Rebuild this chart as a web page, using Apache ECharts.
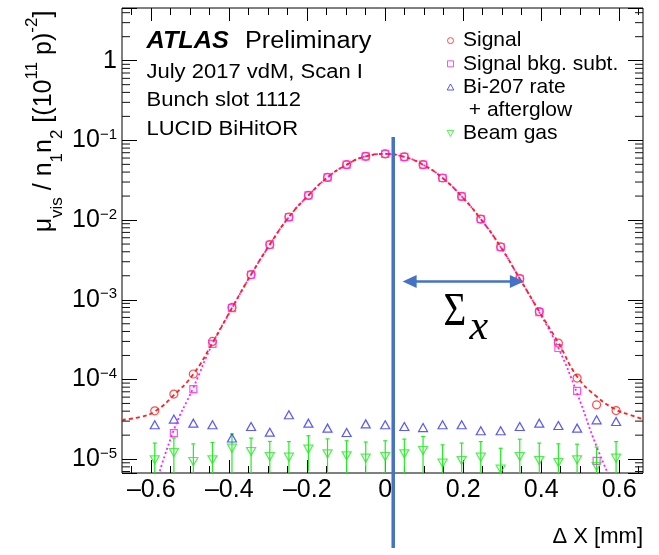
<!DOCTYPE html>
<html>
<head>
<meta charset="utf-8">
<title>LUCID BiHitOR vdM scan</title>
<script src="https://cdn.jsdelivr.net/npm/echarts@6/dist/echarts.min.js"></script>
<style>
html,body{margin:0;padding:0;background:#fff;}
#main{width:659px;height:555px;}
</style>
</head>
<body>
<div id="main"></div>
<script>
// beam separation of each scan step [mm]
var sepX = [-0.591,-0.542,-0.492,-0.443,-0.393,-0.344,-0.296,-0.247,-0.197,-0.148,-0.099,-0.050,0.000,
            0.049,0.097,0.147,0.196,0.245,0.296,0.345,0.395,0.444,0.492,0.542,0.592];
// mu_vis / n1n2 for each scan step
var signal = [4.04e-5,6.55e-5,1.17e-4,3.0e-4,8.0e-4,2.07e-3,4.93e-3,1.093e-2,2.04e-2,3.43e-2,4.95e-2,6.30e-2,6.75e-2,
              6.19e-2,4.95e-2,3.37e-2,1.98e-2,1.03e-2,4.6e-3,1.84e-3,7.1e-4,2.86e-4,1.04e-4,4.81e-5,4.07e-5];
var signalBkgSub = [null,2.12e-5,7.57e-5,2.8e-4,7.87e-4,2.06e-3,4.9e-3,1.09e-2,2.04e-2,3.43e-2,4.95e-2,6.30e-2,6.75e-2,
                    6.19e-2,4.95e-2,3.37e-2,1.98e-2,1.03e-2,4.59e-3,1.835e-3,7.0e-4,2.48e-4,7.2e-5,9.5e-6,null];
var bi207 = [2.70e-5,3.18e-5,2.83e-5,2.70e-5,1.84e-5,2.57e-5,2.18e-5,3.60e-5,2.83e-5,2.45e-5,2.16e-5,2.77e-5,2.70e-5,
             2.57e-5,2.49e-5,2.70e-5,2.70e-5,2.27e-5,2.27e-5,2.57e-5,2.83e-5,2.64e-5,2.45e-5,3.11e-5,2.97e-5];
var beamGas = [9.8e-6,1.21e-5,9.33e-6,9.8e-6,1.374e-5,1.246e-5,1.078e-5,1.059e-5,1.335e-5,1.165e-5,1.10e-5,1.029e-5,1.078e-5,
               1.165e-5,1.282e-5,8.91e-6,9.6e-6,1.059e-5,7.49e-6,1.078e-5,9.6e-6,9.07e-6,9.8e-6,8.07e-6,1.029e-5];
var beamGasErr = [6.1e-6,6.3e-6,6.2e-6,6.4e-6,7.0e-6,5.9e-6,5.9e-6,6.0e-6,6.3e-6,6.3e-6,6.0e-6,6.1e-6,6.2e-6,
                  6.2e-6,6.4e-6,6.2e-6,6.3e-6,6.0e-6,6.2e-6,7.0e-6,6.3e-6,6.5e-6,5.6e-6,6.1e-6,6.3e-6];

// fitted curves
var signalFitX = [-0.675,-0.63,-0.591,-0.542,-0.492,-0.443,-0.393,-0.344,-0.296,-0.247,-0.197,-0.148,-0.099,-0.050,0.000,
                  0.049,0.097,0.147,0.196,0.245,0.296,0.345,0.395,0.444,0.492,0.542,0.592,0.627,0.661];
var signalFit = [3.11e-5,3.37e-5,3.96e-5,6.36e-5,1.17e-4,2.88e-4,7.9e-4,2.07e-3,4.93e-3,1.093e-2,2.04e-2,3.43e-2,4.95e-2,6.3e-2,6.75e-2,
                 6.19e-2,4.95e-2,3.37e-2,1.98e-2,1.03e-2,4.6e-3,1.84e-3,7.1e-4,2.88e-4,1.09e-4,6.1e-5,4.16e-5,3.6e-5,3.18e-5];
var bkgSubFit = [4.3e-6,2.33e-5,7.9e-5,2.8e-4,7.8e-4,2.06e-3,4.9e-3,1.09e-2,2.04e-2,3.43e-2,4.95e-2,6.3e-2,6.75e-2,
                 6.19e-2,4.95e-2,3.37e-2,1.98e-2,1.03e-2,4.6e-3,1.83e-3,7.0e-4,2.48e-4,6.7e-5,1.44e-5,3.9e-6];

// axis ticks
var xLabels = [-0.6,-0.4,-0.2,0,0.2,0.4,0.6];
var xMinor = [-0.65,-0.55,-0.5,-0.45,-0.35,-0.3,-0.25,-0.15,-0.1,-0.05,0.05,0.1,0.15,0.25,0.3,0.35,0.45,0.5,0.55,0.65];
var yMinorDecades = [1e-6,1e-5,1e-4,1e-3,1e-2,1e-1,1];
var yMinorMant = [2,3,4,5,6,7,8,9];

var xMin = -0.675, xMax = 0.661, yMin = 6.7e-6, yMax = 4.58;

// hand-drawn width annotation (data coords)
var centreX = 0.0205, centreTopY = 0.1104;
var sigmaArrowX = [0.0446, 0.3556], sigmaArrowY = 1.70e-3;

var red = '#ff2020', magenta = '#ff20ff', blue = '#3030ff', green = '#22ee22', annBlue = '#4472c4';

// plot frame
var gridLeft = 122, gridTop = 8, gridW = 521, gridH = 465;

function pairs(xs, ys){
    return xs.map(function(x, i){ return [x, ys[i] == null ? '-' : ys[i]]; });
}

function renderErr(params, api){
    var x = api.value(0), v = api.value(1), e = api.value(2);
    var lo = Math.max(v - e, yMin), hi = Math.min(v + e, yMax);
    var p0 = api.coord([x, lo]), p1 = api.coord([x, hi]);
    var st = {stroke: green, lineWidth: 1.2};
    return {type: 'group', children: [
        {type: 'line', shape: {x1: p0[0], y1: p0[1], x2: p1[0], y2: p1[1]}, style: st},
        {type: 'line', shape: {x1: p1[0] - 2, y1: p1[1], x2: p1[0] + 2, y2: p1[1]}, style: st}
    ]};
}

function fmtX(v){
    if (v === 0) return '0';
    return (v < 0 ? '\u2013' : '') + Math.abs(v).toFixed(1);
}
function fmtY(v){
    var p = Math.round(Math.log10(v));
    if (Math.abs(v / Math.pow(10, p) - 1) > 1e-6) return '';
    return p === 0 ? '1' : '10{sup|\u2212' + (-p) + '}';
}

// extra tick-only axes sharing the frame
function tickAxisX(pos, values, len){
    return {type: 'value', min: xMin, max: xMax, position: pos,
            axisLine: {show: false, onZero: false}, axisLabel: {show: false}, splitLine: {show: false},
            axisTick: {show: true, inside: true, length: len, customValues: values, lineStyle: {color: '#000', width: 1}}};
}

var circleIcon = 'path://M5,0A5,5 0 1,1 5,10A5,5 0 1,1 5,0Z';
var squareIcon = 'path://M0,0H10V10H0Z';
var triUp = 'path://M5,0L10,9L0,9Z';
var triDown = 'path://M0,0L10,0L5,9Z';

var myChart = echarts.init(document.getElementById('main'));
var option = {
    animation: false,
    textStyle: {fontFamily: 'Liberation Sans', color: '#000'},
    grid: {left: gridLeft, top: gridTop, width: gridW, height: gridH, show: true, borderColor: '#000', borderWidth: 1,
           backgroundColor: 'transparent', containLabel: false, outerBoundsMode: 'none'},
    legend: {
        orient: 'vertical', left: 443, top: 29, padding: 0, itemGap: 0,
        itemWidth: 15, itemHeight: 6, selectedMode: false,
        textStyle: {fontSize: 21, lineHeight: 23.2, color: '#000', fontFamily: 'Liberation Sans'},
        data: [
            {name: 'Signal', icon: circleIcon, itemStyle: {color: 'transparent', borderColor: red, borderWidth: 1}},
            {name: 'Signal bkg. subt.', icon: squareIcon, itemStyle: {color: 'transparent', borderColor: magenta, borderWidth: 1}},
            {name: 'Bi-207 rate', icon: triUp, itemStyle: {color: 'transparent', borderColor: blue, borderWidth: 1}},
            {name: ' + afterglow', icon: 'none', itemStyle: {color: 'transparent', borderColor: 'transparent'}},
            {name: 'Beam gas', icon: triDown, itemStyle: {color: 'transparent', borderColor: green, borderWidth: 1}}
        ]
    },
    xAxis: [
        {
            type: 'value', min: xMin, max: xMax, position: 'bottom',
            axisLine: {show: false, onZero: false}, splitLine: {show: false},
            axisTick: {show: true, inside: true, length: 13, customValues: xLabels, lineStyle: {color: '#000', width: 1}},
            axisLabel: {customValues: xLabels, formatter: fmtX, fontSize: 25, color: '#000', margin: 5},
            name: '\u0394 X [mm]', nameLocation: 'end', nameGap: 0,
            nameTextStyle: {fontSize: 22, color: '#000', align: 'right', verticalAlign: 'top', padding: [53, 0, 0, 0]}
        },
        tickAxisX('bottom', xMinor, 7),
        tickAxisX('top', xLabels, 13),
        tickAxisX('top', xMinor, 7)
    ],
    yAxis: [
        {
            type: 'log', logBase: 10, min: yMin, max: yMax, position: 'left',
            axisLine: {show: false, onZero: false}, splitLine: {show: false},
            axisTick: {show: true, inside: true, length: 15, lineStyle: {color: '#000', width: 1}},
            axisLabel: {formatter: fmtY, fontSize: 25, lineHeight: 26, color: '#000', margin: 5,
                        rich: {sup: {fontSize: 15, lineHeight: 15, verticalAlign: 'top', color: '#000'}}}
        },
        {
            type: 'log', logBase: 10, min: yMin, max: yMax, position: 'right',
            axisLine: {show: false, onZero: false}, splitLine: {show: false}, axisLabel: {show: false},
            axisTick: {show: true, inside: true, length: 15, lineStyle: {color: '#000', width: 1}}
        }
    ],
    series: [
        {name: 'Signal', type: 'scatter', data: pairs(sepX, signal), symbol: 'circle', symbolSize: 8,
         itemStyle: {color: 'transparent', borderColor: red, borderWidth: 1.2}, silent: true, z: 3},
        {name: 'Signal bkg. subt.', type: 'scatter', data: pairs(sepX, signalBkgSub), symbol: 'rect', symbolSize: 7,
         itemStyle: {color: 'transparent', borderColor: magenta, borderWidth: 1.2}, silent: true, z: 3},
        {name: 'Bi-207 rate', type: 'scatter', data: pairs(sepX, bi207), symbol: triUp, symbolSize: [9, 8],
         itemStyle: {color: 'transparent', borderColor: blue, borderWidth: 1.2}, silent: true, z: 3},
        {name: ' + afterglow', type: 'scatter', data: []},
        {name: 'Beam gas', type: 'scatter', data: pairs(sepX, beamGas), symbol: triDown, symbolSize: [9, 8],
         itemStyle: {color: 'transparent', borderColor: green, borderWidth: 1.2}, silent: true, z: 3},
        {type: 'custom', name: 'beamGasErr', renderItem: renderErr, silent: true, z: 3, encode: {x: 0, y: 1},
         data: sepX.map(function(x, i){ return [x, beamGas[i], beamGasErr[i]]; })},
        {type: 'line', name: 'bkgSubFit', data: pairs(sepX, bkgSubFit), smooth: true, symbol: 'none', clip: true,
         lineStyle: {color: magenta, width: 1.8, type: [2, 2.5]}, silent: true, z: 4},
        {type: 'line', name: 'signalFit', data: pairs(signalFitX, signalFit), smooth: true, symbol: 'none', clip: true,
         lineStyle: {color: red, width: 1.8, type: [4, 3]}, silent: true, z: 5}
    ]
};
myChart.setOption(option);

// log minor ticks on both vertical sides, placed through the y scale
var gfx = [];
var pt = function(x, y){ return myChart.convertToPixel({gridIndex: 0}, [x, y]); };
var fLeft = gridLeft, fRight = gridLeft + gridW;
var tickRect = function(x, y, w, h){
    gfx.push({type: 'rect', silent: true, z: 100, shape: {x: x, y: y, width: w, height: h}, style: {fill: '#111'}});
};
yMinorDecades.forEach(function(d){
    yMinorMant.forEach(function(m){
        var v = m * d;
        if (v > yMin && v < yMax) {
            var p = pt(0.3, v)[1];
            tickRect(fLeft, p - 0.5, 8, 1);
            tickRect(fRight - 8, p - 0.5, 8, 1);
        }
    });
});

// text block and the hand-drawn sigma annotation
var pTop = pt(centreX, centreTopY);
var a0 = pt(sigmaArrowX[0], sigmaArrowY);
var a1 = pt(sigmaArrowX[1], sigmaArrowY);
var txt = function(text, x, y, size, extra){
    var st = {text: text, fontSize: size, fontFamily: 'Liberation Sans', fill: '#000', align: 'left', verticalAlign: 'middle'};
    for (var k in extra) st[k] = extra[k];
    return {type: 'text', x: x, y: y, scaleX: 1.1, style: st, silent: true};
};
gfx = gfx.concat([
    txt('ATLAS', 146.5, 42, 23, {fontWeight: 'bold', fontStyle: 'italic'}),
    txt('Preliminary', 245, 42, 23, {}),
    txt('July 2017 vdM, Scan I', 146.5, 72, 20, {}),
    txt('Bunch slot 1112', 146.5, 100.5, 20, {}),
    txt('LUCID BiHitOR', 146.5, 129.5, 20, {}),
    {type: 'text', x: 44.5, y: 121.5, rotation: Math.PI / 2, silent: true,
     style: {text: '{b|\u03bc}{s|vis}{b| / n}{s|1}{b|n}{s|2}{b| [(10}{p|11}{b| p)}{p|-2}{b|]}',
             align: 'center', verticalAlign: 'middle', fill: '#000',
             rich: {b: {fontSize: 25, lineHeight: 42, fontFamily: 'Liberation Sans'},
                    s: {fontSize: 17, lineHeight: 17, verticalAlign: 'bottom', fontFamily: 'Liberation Sans'},
                    p: {fontSize: 17, lineHeight: 17, verticalAlign: 'top', fontFamily: 'Liberation Sans'}}}},
    {type: 'line', z: 100, silent: true, shape: {x1: pTop[0], y1: pTop[1], x2: pTop[0], y2: 548},
     style: {stroke: annBlue, lineWidth: 3.5}},
    {type: 'line', z: 100, silent: true, shape: {x1: a0[0] + 10, y1: a0[1], x2: a1[0] - 10, y2: a1[1]},
     style: {stroke: annBlue, lineWidth: 2.5}},
    {type: 'polygon', z: 100, silent: true,
     shape: {points: [[a0[0], a0[1]], [a0[0] + 14, a0[1] - 6.5], [a0[0] + 14, a0[1] + 6.5]]}, style: {fill: annBlue}},
    {type: 'polygon', z: 100, silent: true,
     shape: {points: [[a1[0], a1[1]], [a1[0] - 14, a1[1] - 6.5], [a1[0] - 14, a1[1] + 6.5]]}, style: {fill: annBlue}},
    {type: 'text', z: 100, silent: true, x: a0[0] + 41, y: a0[1] + 32, scaleX: 0.85,
     style: {text: '\u03a3', fontSize: 46, fontFamily: 'Liberation Serif', fill: '#000', align: 'left', verticalAlign: 'middle'}},
    {type: 'text', z: 100, silent: true, x: a0[0] + 67, y: a0[1] + 47,
     style: {text: 'x', fontSize: 42, fontStyle: 'italic', fontFamily: 'Liberation Serif', fill: '#000', align: 'left', verticalAlign: 'middle'}}
]);
myChart.setOption({graphic: gfx});
</script>
</body>
</html>
